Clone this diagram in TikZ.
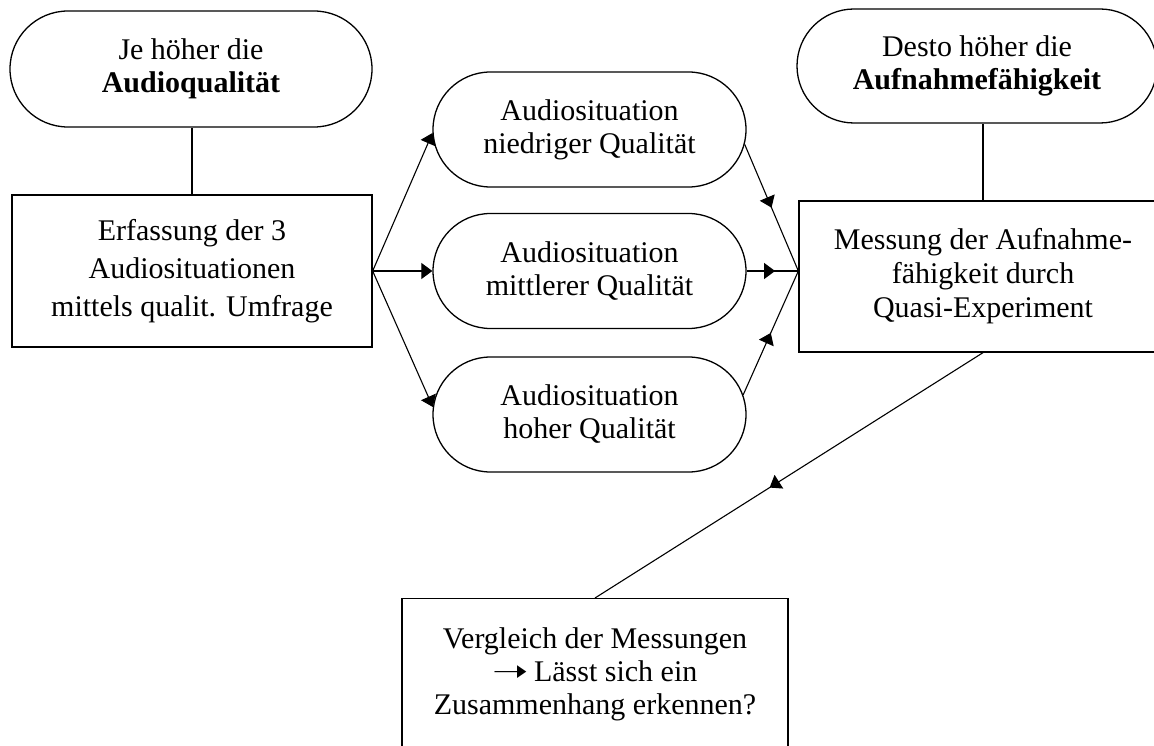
\documentclass[tikz,border=0pt]{standalone}
\usepackage{fontspec}
\setmainfont{Liberation Serif}
\newfontfamily\arrowfont{DejaVu Sans}
\usetikzlibrary{arrows.meta,shapes.misc,decorations.markings,calc}
\begin{document}
\begin{tikzpicture}[x=1pt,y=-1pt,
  txt/.style={font=\fontsize{30}{33}\selectfont, align=center},
  pillbox/.style={txt, draw, line width=1.3pt, rounded rectangle, inner sep=0pt, minimum height=115pt},
  rectbox/.style={txt, draw, line width=1.3pt, rectangle, inner sep=0pt},
  conn/.style={line width=1.1pt},
  endtip/.style={-{Triangle[length=11pt,width=16pt]}},
  midtip/.style={decoration={markings, mark=at position #1 with {\arrow{Triangle[length=11pt,width=16pt]}}}, postaction={decorate}}
]
\useasboundingbox (0,0) rectangle (1154,746);
\clip (0,0) rectangle (1154,746);

\node[pillbox, minimum width=362pt, minimum height=116pt] (pl) at (191,69) {Je höher die\\\textbf{Audioqualität}};
\node[rectbox, minimum width=360pt, minimum height=152pt, font=\fontsize{30}{38}\selectfont] (bl) at (192,271) {Erfassung der 3\\Audiosituationen\\mittels qualit. Umfrage};
\node[pillbox, minimum width=313pt] (p1) at (589.5,129.5) {Audiosituation\\niedriger Qualität};
\node[pillbox, minimum width=313pt] (p2) at (589.5,271) {Audiosituation\\mittlerer Qualität};
\node[pillbox, minimum width=313pt] (p3) at (589.5,414.5) {Audiosituation\\hoher Qualität};
\node[pillbox, minimum width=360pt, minimum height=114pt] (pr) at (977,66) {Desto höher die\\\textbf{Aufnahmefähigkeit}};
\node[rectbox, minimum width=368pt, minimum height=151pt, font=\fontsize{30}{34}\selectfont] (br) at (983,276.5) {Messung der Aufnahme-\\fähigkeit durch\\Quasi-Experiment};
\node[rectbox, minimum width=386pt, minimum height=152pt, anchor=north] (bb) at (595,598) {Vergleich der Messungen\\{\arrowfont\scalebox{1.45}[1]{➝}}\,Lässt sich ein\\Zusammenhang erkennen?};

% points on the round ends of the middle pills
\coordinate (p1in)  at ($(p1.west)+(57.5,0)+(176.5:57.5)$);
\coordinate (p3in)  at ($(p3.west)+(57.5,0)+(187.5:57.5)$);
\coordinate (p1out) at ($(p1.east)+(-57.5,0)+(15:57.5)$);
\coordinate (p3out) at ($(p3.east)+(-57.5,0)+(-20:57.5)$);
\coordinate (cv) at (br.west |- p2.east);

\draw[conn] (bl.north) -- (bl.north |- pl.south);
\draw[conn] (br.north) -- (br.north |- pr.south);

\draw[conn, endtip] (bl.east) -- (p1in);
\draw[conn, endtip] (bl.east) -- (p2.west);
\draw[conn, endtip] (bl.east) -- (p3in);

\draw[conn, midtip=0.5] (p1out) -- (cv);
\draw[conn, midtip=0.55] (p2.east) -- (cv);
\draw[conn, midtip=0.5] (p3out) -- (cv);

\draw[conn, midtip=0.55] (br.south) -- (bb.north);
\end{tikzpicture}
\end{document}
